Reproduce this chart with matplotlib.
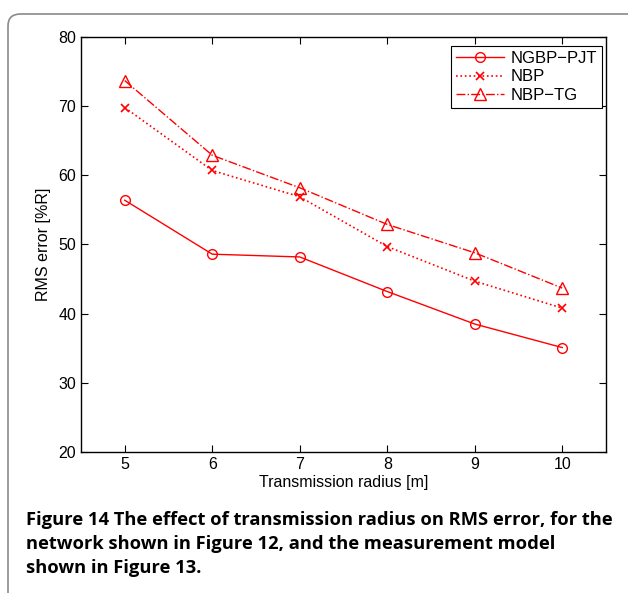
import matplotlib.pyplot as plt
from matplotlib.patches import FancyBboxPatch

# data
radius = [5, 6, 7, 8, 9, 10]
ngbp_pjt = [56.4, 48.6, 48.2, 43.2, 38.5, 35.1]
nbp = [69.8, 60.7, 56.9, 49.7, 44.7, 40.8]
nbp_tg = [73.7, 62.9, 58.2, 52.9, 48.8, 43.7]
yticks = [20, 30, 40, 50, 60, 70, 80]

plt.rcParams['font.family'] = ['Liberation Sans', 'DejaVu Sans']

fig = plt.figure(figsize=(6.28, 5.93), dpi=100)

# rounded grey frame around figure + caption
frame = FancyBboxPatch((8 / 628, -0.1), 1.2, (593 - 14) / 593 + 0.1,
                       boxstyle='round,pad=0,rounding_size=0.02',
                       transform=fig.transFigure, facecolor='none',
                       edgecolor='#8a8a8a', linewidth=1.2)
fig.patches.append(frame)

ax = fig.add_axes([81 / 628, 141 / 593, 525 / 628, 415 / 593])
ax.plot(radius, ngbp_pjt, color='red', linestyle='-', marker='o', markersize=7,
        markerfacecolor='none', markeredgewidth=1, linewidth=1, label='NGBP\u2212PJT')
ax.plot(radius, nbp, color='red', linestyle=':', marker='x', markersize=6,
        markeredgewidth=1.2, linewidth=1.2, label='NBP')
ax.plot(radius, nbp_tg, color='red', linestyle='-.', marker='^', markersize=8,
        markerfacecolor='none', markeredgewidth=1, linewidth=1, label='NBP\u2212TG')

ax.set_xlim(4.5, 10.5)
ax.set_ylim(20, 80)
ax.set_xticks(radius)
ax.set_yticks(yticks)
ax.tick_params(direction='in', top=True, right=True, length=5, width=0.8, labelsize=11.5)
for s in ax.spines.values():
    s.set_linewidth(1)
ax.set_xlabel('Transmission radius [m]', fontsize=11.5, labelpad=2)
ax.set_ylabel('RMS error [%R]', fontsize=11.5, labelpad=5)

leg = ax.legend(loc='upper right', bbox_to_anchor=(0.992, 0.978), fancybox=False,
                edgecolor='black', framealpha=1, fontsize=12, borderpad=0.3,
                labelspacing=0.2, handlelength=2.9, handletextpad=0.35, borderaxespad=0)
leg.get_frame().set_linewidth(0.8)

caption = ('Figure 14 The effect of transmission radius on RMS error, for the\n'
           'network shown in Figure 12, and the measurement model\n'
           'shown in Figure 13.')
fig.text(26 / 628, 1 - 511 / 593, caption, ha='left', va='top', fontsize=13.2,
         fontweight='bold', family=['Open Sans', 'DejaVu Sans'], linespacing=1.42)

plt.savefig('out.png', dpi=100)
